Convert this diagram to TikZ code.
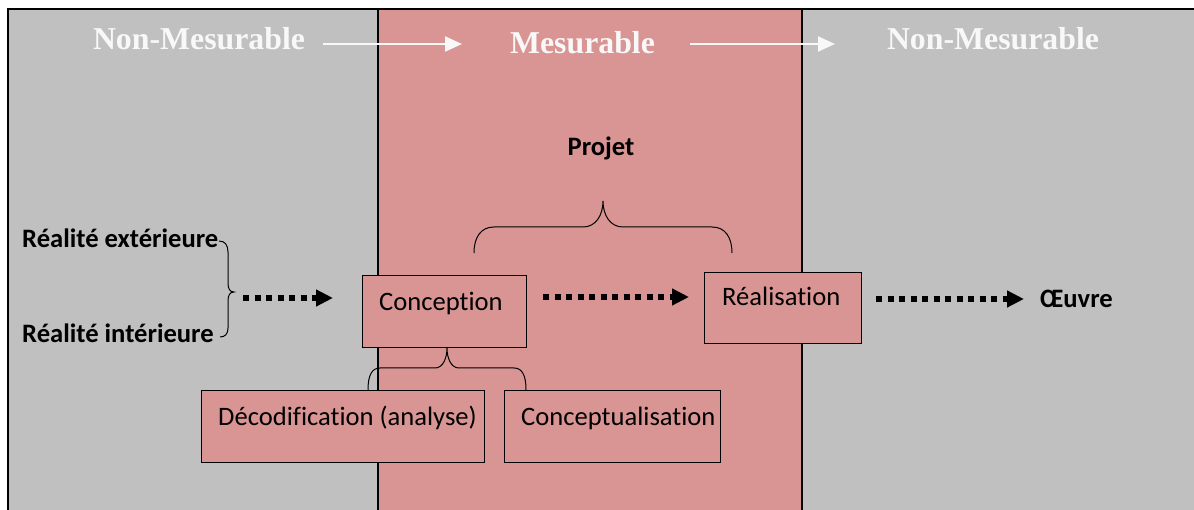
\documentclass[tikz,border=0pt]{standalone}
\usepackage{fontspec}
\setmainfont{Carlito}[Ligatures={NoCommon}]
\newfontfamily\headfont{Liberation Serif}
\usetikzlibrary{arrows.meta}
\definecolor{greybg}{HTML}{C0C0C0}
\definecolor{pinkbg}{HTML}{D99594}
\definecolor{headwhite}{HTML}{F8F8F8}
\begin{document}
\begin{tikzpicture}[x=1pt,y=-1pt,
  txt/.style={inner sep=0pt, anchor=base west, font=\fontsize{26.6}{30}\selectfont},
  btxt/.style={inner sep=0pt, anchor=base west, font=\fontsize{26.6}{30}\selectfont\bfseries},
  head/.style={inner sep=0pt, anchor=base, text=headwhite, font=\fontsize{31.8}{36}\selectfont\headfont\bfseries},
  box/.style={draw=black, line width=1.3pt, fill=pinkbg, anchor=north west, inner sep=0pt},
  dotarrow/.style={line width=5.5pt, dash pattern=on 6pt off 5.5pt, -{Triangle[length=17pt,width=16pt]}},
  whitearrow/.style={draw=headwhite, line width=2.2pt, -{Triangle[length=17pt,width=15pt]}},
  bracel/.style={line width=1pt}
]
\useasboundingbox (0,0) rectangle (1194,510);
% panels
\fill[greybg] (8,9) rectangle (1194,510);
\fill[pinkbg] (378,9) rectangle (802,510);
\draw[line width=1.2pt] (378,9) -- (378,510);
\draw[line width=1.2pt] (802,9) -- (802,510);
\draw[line width=2.6pt] (8,510) -- (8,9) -- (1194,9);
% headings
\node[head] (nm1) at (199,50) {Non-Mesurable};
\node[head] (mes) at (582.5,54) {Mesurable};
\node[head] (nm2) at (993,50) {Non-Mesurable};
\coordinate (w1s) at (323,44);
\coordinate (w1e) at (462,44);
\coordinate (w2s) at (690,44);
\coordinate (w2e) at (835,44);
\draw[whitearrow] (w1s) -- (w1e);
\draw[whitearrow] (w2s) -- (w2e);
% projet
\node[btxt, anchor=base] (projet) at (601,156) {Projet};
\draw[bracel] (474,253) .. controls (474,237) and (481,227) .. (494,227) -- (583,227) .. controls (596,227) and (603,215) .. (603,201) .. controls (603,215) and (610,227) .. (623,227) -- (712,227) .. controls (725,227) and (732,237) .. (732,253);
% realites
\node[btxt] (rext) at (22,248) {Réalité extérieure};
\node[btxt] (rint) at (22,343) {Réalité intérieure};
\draw[bracel] (219,241) .. controls (225,241) and (228,245) .. (228,252) -- (228,283) .. controls (228,289) and (230,292) .. (234,292) .. controls (230,292) and (228,295) .. (228,301) -- (228,328) .. controls (228,334) and (225,337) .. (220,337);
% boxes
\node[box, minimum width=164pt, minimum height=72pt] (concep) at (362,275) {};
\node[txt] (concepT) at (379,311) {Conception};
\node[box, minimum width=157pt, minimum height=71pt] (real) at (704,272) {};
\node[txt] (realT) at (722,306) {Réalisation};
\node[box, minimum width=283pt, minimum height=72pt] (decod) at (201,390) {};
\node[txt] (decodT) at (218,425) {Décodification (analyse)};
\node[box, minimum width=216pt, minimum height=72pt] (concept) at (504,390) {};
\node[txt] (conceptT) at (521,425) {Conceptualisation};
\node[btxt] (oeuvre) at (1040,308) {Œuvre};
% brace under conception
\draw[bracel] (368,390) .. controls (368,375) and (372,368) .. (380,368) -- (435,368) .. controls (443,368) and (447,358) .. (447,348) .. controls (447,358) and (451,368) .. (459,368) -- (514,368) .. controls (522,368) and (526,375) .. (526,390);
% dotted arrows
\coordinate (d1s) at (243,298);
\coordinate (d1e) at (333,298);
\coordinate (d2s) at (543,297);
\coordinate (d2e) at (689,297);
\coordinate (d3s) at (876,299);
\coordinate (d3e) at (1024,299);
\draw[dotarrow] (d1s) -- (d1e);
\draw[dotarrow] (d2s) -- (d2e);
\draw[dotarrow] (d3s) -- (d3e);
\end{tikzpicture}
\end{document}
